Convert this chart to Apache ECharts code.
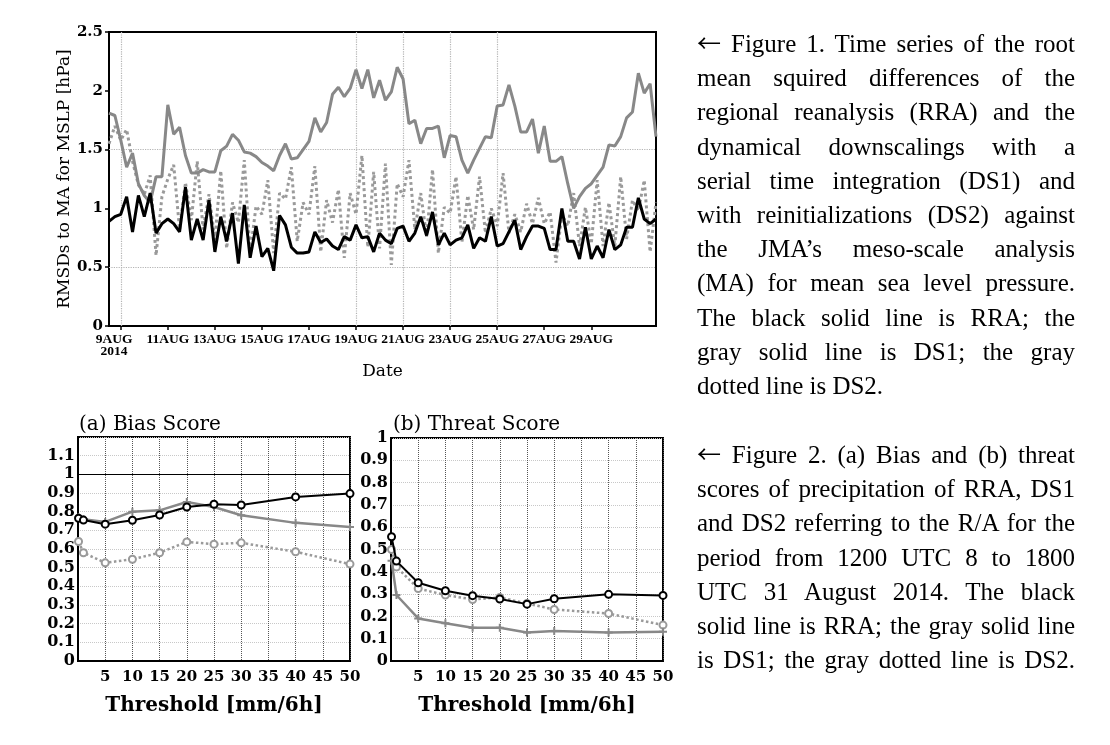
<!DOCTYPE html>
<html>
<head>
<meta charset="utf-8">
<script src="https://cdn.jsdelivr.net/npm/echarts@6/dist/echarts.min.js"></script>
<style>
  html, body { margin: 0; padding: 0; background: #fff; }
  #chart { position: absolute; left: 0; top: 0; width: 1110px; height: 745px; }
  .para { position: absolute; left: 697px; width: 378px; font-family: 'Liberation Serif', 'Times New Roman', serif; font-size: 25px; line-height: 34.2px; color: #000; }
  .para .j { text-align: justify; text-align-last: justify; height: 34.2px; }
  .para .l { text-align: left; height: 34.2px; }
  .arr { font-family: 'Noto Sans CJK JP', 'DejaVu Sans', sans-serif; font-size: 24px; line-height: 0; }
</style>
</head>
<body>
<div id="chart"></div>
<div class="para" style="top:27px">
  <div class="j"><span class="arr">←</span> Figure 1. Time series of the root</div>
  <div class="j">mean squired differences of the</div>
  <div class="j">regional reanalysis (RRA) and the</div>
  <div class="j">dynamical downscalings with a</div>
  <div class="j">serial time integration (DS1) and</div>
  <div class="j">with reinitializations (DS2) against</div>
  <div class="j">the JMA’s meso-scale analysis</div>
  <div class="j">(MA) for mean sea level pressure.</div>
  <div class="j">The black solid line is RRA; the</div>
  <div class="j">gray solid line is DS1; the gray</div>
  <div class="l">dotted line is DS2.</div>
</div>
<div class="para" style="top:438px">
  <div class="j"><span class="arr">←</span> Figure 2. (a) Bias and (b) threat</div>
  <div class="j">scores of precipitation of RRA, DS1</div>
  <div class="j">and DS2 referring to the R/A for the</div>
  <div class="j">period from 1200 UTC 8 to 1800</div>
  <div class="j">UTC 31 August 2014. The black</div>
  <div class="j">solid line is RRA; the gray solid line</div>
  <div class="j">is DS1; the gray dotted line is DS2.</div>
</div>
<script>
// ---------- Figure 1 data (6-hourly, 12UTC 8 Aug to 18UTC 31 Aug 2014) ----------
const rraMslp = [
  0.89, 0.93, 0.95, 1.10, 0.80, 1.11, 0.93, 1.13, 0.79, 0.87,
  0.91, 0.87, 0.80, 1.18, 0.73, 0.91, 0.73, 1.07, 0.63, 0.93,
  0.72, 0.96, 0.53, 1.03, 0.58, 0.85, 0.59, 0.66, 0.47, 0.94,
  0.86, 0.67, 0.62, 0.62, 0.63, 0.80, 0.71, 0.74, 0.68, 0.65,
  0.76, 0.73, 0.86, 0.75, 0.76, 0.63, 0.79, 0.73, 0.70, 0.83,
  0.85, 0.72, 0.79, 0.93, 0.77, 0.97, 0.69, 0.79, 0.69, 0.73,
  0.75, 0.86, 0.66, 0.75, 0.72, 0.93, 0.68, 0.70, 0.80, 0.90,
  0.65, 0.76, 0.85, 0.85, 0.83, 0.65, 0.65, 1.00, 0.72, 0.72,
  0.57, 0.84, 0.57, 0.68, 0.58, 0.82, 0.65, 0.69, 0.84, 0.84,
  1.09, 0.91, 0.87, 0.91
];
const ds1Mslp = [
  1.81, 1.79, 1.58, 1.35, 1.47, 1.21, 1.11, 1.05, 1.27, 1.27,
  1.88, 1.63, 1.69, 1.45, 1.30, 1.30, 1.33, 1.31, 1.31, 1.49,
  1.53, 1.63, 1.58, 1.48, 1.47, 1.44, 1.39, 1.36, 1.32, 1.45,
  1.55, 1.42, 1.43, 1.50, 1.57, 1.77, 1.65, 1.73, 1.97, 2.03,
  1.95, 2.02, 2.18, 2.02, 2.18, 1.94, 2.09, 1.92, 1.99, 2.20,
  2.10, 1.72, 1.75, 1.55, 1.68, 1.68, 1.70, 1.43, 1.62, 1.61,
  1.41, 1.30, 1.41, 1.51, 1.61, 1.60, 1.87, 1.88, 2.05, 1.87,
  1.65, 1.65, 1.76, 1.47, 1.70, 1.40, 1.40, 1.44, 1.21, 1.00,
  1.10, 1.17, 1.21, 1.28, 1.35, 1.54, 1.53, 1.61, 1.77, 1.82,
  2.15, 1.98, 2.06, 1.61
];
const ds2Mslp = [
  1.55, 1.70, 1.58, 1.67, 1.40, 1.20, 1.12, 1.28, 0.60, 1.10,
  1.25, 1.37, 0.82, 1.22, 0.90, 1.40, 0.82, 1.12, 0.73, 1.32,
  0.66, 1.05, 0.88, 1.41, 0.62, 1.02, 0.95, 1.24, 0.62, 1.13,
  1.08, 1.35, 0.72, 1.05, 0.95, 1.36, 0.63, 1.07, 0.88, 1.16,
  0.58, 1.13, 0.95, 1.45, 0.67, 1.31, 0.66, 1.38, 0.52, 1.21,
  1.10, 1.41, 0.82, 1.13, 0.76, 1.33, 0.62, 1.01, 0.96, 1.27,
  0.71, 1.11, 0.82, 1.27, 0.79, 1.00, 0.85, 1.30, 0.79, 0.95,
  0.80, 1.04, 0.87, 1.09, 0.87, 0.97, 0.54, 0.95, 0.85, 1.13,
  0.68, 1.01, 0.70, 1.24, 0.68, 1.05, 0.68, 1.27, 0.74, 1.07,
  0.98, 1.24, 0.63, 1.05
];
const dateTickDays = [9, 11, 13, 15, 17, 19, 21, 23, 25, 27, 29];
const dateTickLabels = ['9AUG\n2014', '11AUG', '13AUG', '15AUG', '17AUG', '19AUG', '21AUG', '23AUG', '25AUG', '27AUG', '29AUG'];
const dateGridDays = [9, 19, 21, 23, 25];
const mslpYTicks = [0, 0.5, 1, 1.5, 2, 2.5];
const mslpGridValues = [0.5, 1.5];

// ---------- Figure 2 data ----------
const thresholds = [0.1, 1, 5, 10, 15, 20, 25, 30, 40, 50];
const biasRRA = [0.765, 0.755, 0.733, 0.754, 0.782, 0.825, 0.840, 0.836, 0.879, 0.897];
const biasDS1 = [0.770, 0.760, 0.745, 0.800, 0.807, 0.852, 0.825, 0.781, 0.740, 0.718];
const biasDS2 = [0.640, 0.580, 0.526, 0.545, 0.580, 0.638, 0.626, 0.633, 0.585, 0.519];
const threatRRA = [0.557, 0.448, 0.351, 0.315, 0.293, 0.278, 0.255, 0.279, 0.299, 0.294];
const threatDS1 = [0.450, 0.296, 0.191, 0.169, 0.149, 0.149, 0.128, 0.134, 0.128, 0.131];
const threatDS2 = [0.500, 0.422, 0.325, 0.296, 0.276, 0.285, 0.258, 0.231, 0.213, 0.161];
const thresholdTicks = [5, 10, 15, 20, 25, 30, 35, 40, 45, 50];

// ---------- build ----------
const categories = [];
const start = Date.UTC(2014, 7, 8, 12);
for (let i = 0; i < rraMslp.length; i++) {
  const d = new Date(start + i * 6 * 3600 * 1000);
  const h = d.getUTCHours();
  categories.push(d.getUTCDate() + 'AUG' + (h < 10 ? '0' + h : h) + 'Z');
}
const tickCats = dateTickDays.map(d => d + 'AUG00Z');
const gridCats = dateGridDays.map(d => d + 'AUG00Z');
const PAD = '\u00a0'.repeat(4);
const labelOf = {};
tickCats.forEach((c, k) => {
  const lab = dateTickLabels[k];
  // the two-line first label sits a little left of its tick, as in the source figure
  labelOf[c] = lab.indexOf('\n') >= 0 ? lab.split('\n').map(s => s + PAD).join('\n') : lab;
});

const SERIF = 'DejaVu Serif';
const TSERIF = 'Liberation Serif';
const BLACK = '#000';
const GRAY1 = '#888888';
const GRAY2 = '#9a9a9a';
const GRID = '#b4b4b4';
const plusPath = 'path://M3,0H5V3H8V5H5V8H3V5H0V3H3Z';

function fmt1(v) { return String(Number(v.toFixed(1))); }

const chart = echarts.init(document.getElementById('chart'), null, { renderer: 'canvas' });

const bottomX = (gi) => ({
  type: 'value', gridIndex: gi, min: 0, max: 50, interval: 5,
  axisLine: { show: true, onZero: false, lineStyle: { color: BLACK, width: 2 } },
  axisTick: { show: false },
  axisLabel: { color: BLACK, fontFamily: SERIF, fontWeight: 'bold', fontSize: 15, margin: 9,
    formatter: v => thresholdTicks.indexOf(v) >= 0 ? String(v) : '' },
  splitLine: { show: true, lineStyle: { type: 'dotted', color: '#555', width: 1 } },
  name: 'Threshold [mm/6h]', nameLocation: 'middle', nameGap: 35,
  nameTextStyle: { color: BLACK, fontFamily: SERIF, fontSize: 20, fontWeight: 'bold' }
});

const bottomY = (gi, max, showMax) => ({
  type: 'value', gridIndex: gi, min: 0, max: max, interval: 0.1,
  axisLine: { show: true, lineStyle: { color: BLACK, width: 2 } },
  axisTick: { show: false },
  axisLabel: { color: BLACK, fontFamily: SERIF, fontWeight: 'bold', fontSize: 16, margin: 3,
    formatter: v => (!showMax && v > max - 0.05) ? '' : fmt1(v) },
  splitLine: { show: true, lineStyle: { type: 'dotted', color: '#c8c8c8', width: 1 } }
});

const rraStyle = (xi, yi, data) => ({
  type: 'line', xAxisIndex: xi, yAxisIndex: yi, z: 5,
  data: thresholds.map((t, k) => [t, data[k]]),
  symbol: 'emptyCircle', symbolSize: 7,
  itemStyle: { color: BLACK, borderWidth: 2 },
  lineStyle: { color: BLACK, width: 2 }, silent: true, animation: false
});
const ds1Style = (xi, yi, data) => ({
  type: 'line', xAxisIndex: xi, yAxisIndex: yi, z: 4,
  data: thresholds.map((t, k) => [t, data[k]]),
  symbol: plusPath, symbolSize: 8,
  itemStyle: { color: GRAY1 },
  lineStyle: { color: GRAY1, width: 2.5 }, silent: true, animation: false
});
const ds2Style = (xi, yi, data) => ({
  type: 'line', xAxisIndex: xi, yAxisIndex: yi, z: 3,
  data: thresholds.map((t, k) => [t, data[k]]),
  symbol: 'emptyCircle', symbolSize: 7,
  itemStyle: { color: GRAY2, borderWidth: 2 },
  lineStyle: { color: GRAY2, width: 2.5, type: 'dotted' }, silent: true, animation: false
});

const option = {
  backgroundColor: '#fff',
  animation: false,
  title: [
    { text: '(a) Bias Score', left: 74, top: 410, textStyle: { fontFamily: SERIF, fontSize: 20, fontWeight: 'normal', color: BLACK } },
    { text: '(b) Threat Score', left: 388, top: 410, textStyle: { fontFamily: SERIF, fontSize: 20, fontWeight: 'normal', color: BLACK } }
  ],
  grid: [
    { left: 109, top: 32, width: 547, height: 294, show: true, borderColor: BLACK, borderWidth: 2, backgroundColor: 'transparent', outerBoundsMode: 'none', containLabel: false },
    { left: 78, top: 437, width: 272, height: 224, show: true, borderColor: BLACK, borderWidth: 2, backgroundColor: 'transparent', outerBoundsMode: 'none', containLabel: false },
    { left: 391, top: 438, width: 272, height: 223, show: true, borderColor: BLACK, borderWidth: 2, backgroundColor: 'transparent', outerBoundsMode: 'none', containLabel: false }
  ],
  xAxis: [
    {
      type: 'category', gridIndex: 0, data: categories, boundaryGap: false,
      axisLine: { show: true, onZero: false, lineStyle: { color: BLACK, width: 2 } },
      axisTick: { show: true, interval: (i, v) => tickCats.indexOf(v) >= 0, length: 4, lineStyle: { color: BLACK, width: 1.5 } },
      axisLabel: { show: true, interval: (i, v) => tickCats.indexOf(v) >= 0, formatter: v => labelOf[v] || '',
        color: BLACK, fontFamily: TSERIF, fontWeight: 'bold', fontSize: 13.5, lineHeight: 12, margin: 8, hideOverlap: false },
      splitLine: { show: false },
      name: 'Date', nameLocation: 'middle', nameGap: 37,
      nameTextStyle: { color: BLACK, fontFamily: SERIF, fontSize: 17 }
    },
    bottomX(1),
    bottomX(2)
  ],
  yAxis: [
    {
      type: 'value', gridIndex: 0, min: 0, max: 2.5, interval: 0.5,
      axisLine: { show: true, lineStyle: { color: BLACK, width: 2 } },
      axisTick: { show: true, length: 4, lineStyle: { color: BLACK, width: 1.5 } },
      axisLabel: { color: BLACK, fontFamily: SERIF, fontWeight: 'bold', fontSize: 15, margin: 6,
        formatter: v => mslpYTicks.indexOf(Number(v.toFixed(1))) >= 0 ? fmt1(v) : '' },
      splitLine: { show: false },
      name: 'RMSDs to MA for MSLP [hPa]', nameLocation: 'middle', nameGap: 35, nameRotate: 90,
      nameTextStyle: { color: BLACK, fontFamily: SERIF, fontSize: 17 }
    },
    bottomY(1, 1.2, false),
    bottomY(2, 1.0, true)
  ],
  series: [
    {
      name: 'DS2', type: 'line', xAxisIndex: 0, yAxisIndex: 0, data: ds2Mslp, z: 3,
      symbol: 'none', lineStyle: { color: GRAY2, width: 3, type: 'dotted' }, silent: true,
      markLine: {
        silent: true, symbol: 'none', label: { show: false }, z: 1, animation: false,
        lineStyle: { type: 'dotted', color: GRID, width: 1.2 },
        emphasis: { disabled: true },
        data: gridCats.map(c => ({ xAxis: c }))
      }
    },
    {
      name: 'DS1', type: 'line', xAxisIndex: 0, yAxisIndex: 0, data: ds1Mslp, z: 4,
      symbol: 'none', lineStyle: { color: GRAY1, width: 3 }, silent: true
    },
    {
      name: 'RRA', type: 'line', xAxisIndex: 0, yAxisIndex: 0, data: rraMslp, z: 5,
      symbol: 'none', lineStyle: { color: BLACK, width: 3 }, silent: true,
      markLine: {
        silent: true, symbol: 'none', label: { show: false }, z: 1, animation: false,
        lineStyle: { type: 'dotted', color: GRID, width: 1.2 },
        emphasis: { disabled: true },
        data: mslpGridValues.map(v => ({ yAxis: v }))
      }
    },
    ds2Style(1, 1, biasDS2),
    ds1Style(1, 1, biasDS1),
    Object.assign(rraStyle(1, 1, biasRRA), {
      markLine: {
        silent: true, symbol: 'none', label: { show: false }, animation: false,
        lineStyle: { type: 'solid', color: BLACK, width: 1 },
        data: [{ yAxis: 1 }]
      }
    }),
    ds2Style(2, 2, threatDS2),
    ds1Style(2, 2, threatDS1),
    rraStyle(2, 2, threatRRA)
  ]
};
chart.setOption(option);
</script>
</body>
</html>
